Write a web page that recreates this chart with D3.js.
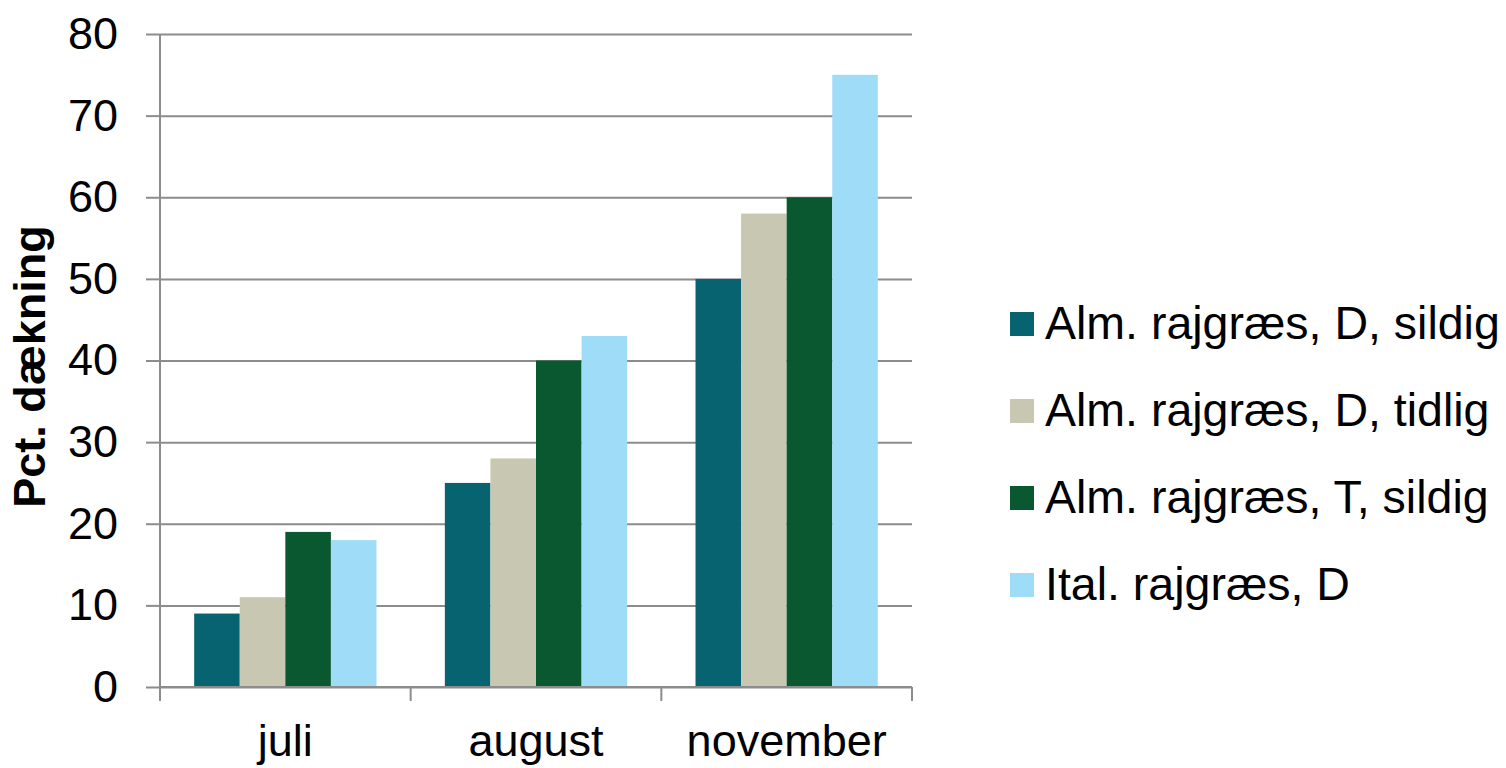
<!DOCTYPE html>
<html>
<head>
<meta charset="utf-8">
<script src="https://cdn.jsdelivr.net/npm/d3@7"></script>
<style>
	body { margin: 0; background: #fff; }
	svg text { font-family: "Liberation Sans", Arial, sans-serif; fill: #000; }
</style>
</head>
<body>
<div id="chart"></div>
<script>
// data
var categories = ['juli', 'august', 'november']
var seriesNames = [
	'Alm. rajgræs, D, sildig',
	'Alm. rajgræs, D, tidlig',
	'Alm. rajgræs, T, sildig',
	'Ital. rajgræs, D'
]
var almDSildig = [9, 25, 50]
var almDTidlig = [11, 28, 58]
var almTSildig = [19, 40, 60]
var italD = [18, 43, 75]
var yTicks = [0, 10, 20, 30, 40, 50, 60, 70, 80]
var colors = ['#07636F', '#C8C8B2', '#0A582F', '#9FDCF7']

var seriesValues = [almDSildig, almDTidlig, almTSildig, italD]

var W = 1506, H = 768
var plot = { left: 160, right: 912, top: 34, bottom: 687 }
var gridColor = '#8c8c8c'

var svg = d3.select('#chart').append('svg')
	.attr('width', W)
	.attr('height', H)

var x0 = d3.scaleBand()
	.domain(categories)
	.range([plot.left, plot.right])

// excel style gap width 150%: band = 4 bars + 1.5 bar
var barW = x0.bandwidth() / 5.5
var x1 = d3.scaleBand()
	.domain(d3.range(seriesNames.length))
	.range([barW * 0.75, barW * 0.75 + barW * 4])

var y = d3.scaleLinear()
	.domain([0, 80])
	.range([plot.bottom, plot.top])

// gridlines + y ticks
var yAxis = svg.append('g')
	.attr('transform', 'translate(' + plot.left + ',0)')
	.call(d3.axisLeft(y).tickValues(yTicks).tickSize(14).tickPadding(28))
yAxis.select('.domain').remove()
yAxis.selectAll('.tick line').attr('stroke', gridColor).attr('stroke-width', 2)
yAxis.selectAll('.tick').append('line')
	.attr('x1', 0)
	.attr('x2', plot.right - plot.left)
	.attr('stroke', gridColor)
	.attr('stroke-width', 2)
yAxis.selectAll('.tick text')
	.attr('font-size', 45)
	.attr('font-family', '"Liberation Sans", Arial, sans-serif')
	.attr('fill', '#000')

// bars
var groups = svg.append('g').selectAll('g')
	.data(categories)
	.enter()
	.append('g')
	.attr('transform', function(d) { return 'translate(' + x0(d) + ',0)' })

groups.selectAll('rect')
	.data(function(d, i) {
		return seriesValues.map(function(vals, s) { return { s: s, v: vals[i] } })
	})
	.enter()
	.append('rect')
	.attr('x', function(d) { return x1(d.s) })
	.attr('width', x1.bandwidth())
	.attr('y', function(d) { return y(d.v) })
	.attr('height', function(d) { return y(0) - y(d.v) })
	.attr('fill', function(d) { return colors[d.s] })

// y axis line
svg.append('line')
	.attr('x1', plot.left).attr('x2', plot.left)
	.attr('y1', plot.top).attr('y2', plot.bottom)
	.attr('stroke', gridColor).attr('stroke-width', 2)

// x axis with category boundary ticks
svg.append('line')
	.attr('x1', plot.left).attr('x2', plot.right)
	.attr('y1', plot.bottom).attr('y2', plot.bottom)
	.attr('stroke', gridColor).attr('stroke-width', 2)

var bounds = categories.map(function(c) { return x0(c) }).concat([plot.right])
svg.append('g').selectAll('line')
	.data(bounds)
	.enter()
	.append('line')
	.attr('x1', function(d) { return d }).attr('x2', function(d) { return d })
	.attr('y1', plot.bottom).attr('y2', plot.bottom + 14)
	.attr('stroke', gridColor).attr('stroke-width', 2)

svg.append('g').selectAll('text')
	.data(categories)
	.enter()
	.append('text')
	.attr('x', function(d) { return x0(d) + x0.bandwidth() / 2 })
	.attr('y', 756)
	.attr('text-anchor', 'middle')
	.attr('font-size', 45)
	.text(function(d) { return d })

// y title
svg.append('text')
	.attr('transform', 'translate(45,' + ((plot.top + plot.bottom) / 2 + 6) + ') rotate(-90)')
	.attr('text-anchor', 'middle')
	.attr('font-size', 45)
	.attr('font-weight', 'bold')
	.text('Pct. dækning')

// legend
var legend = svg.append('g').selectAll('g')
	.data(seriesNames)
	.enter()
	.append('g')
	.attr('transform', function(d, i) { return 'translate(1010,' + (312 + i * 87) + ')' })

legend.append('rect')
	.attr('width', 24)
	.attr('height', 24)
	.attr('fill', function(d, i) { return colors[i] })

legend.append('text')
	.attr('x', 35)
	.attr('y', 27)
	.attr('font-size', 46.5)
	.text(function(d) { return d })
</script>
</body>
</html>
